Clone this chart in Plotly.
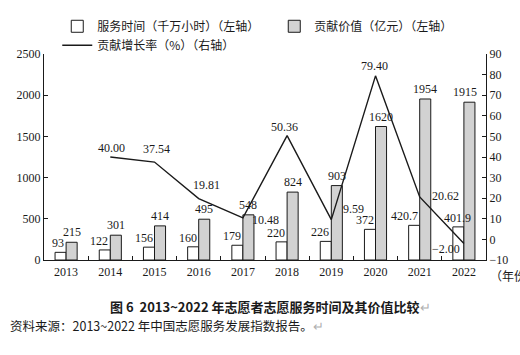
import plotly.graph_objects as go

# ---------------- data ----------------
years = ["2013", "2014", "2015", "2016", "2017", "2018", "2019", "2020", "2021", "2022"]
service_hours = [93, 122, 156, 160, 179, 220, 226, 372, 420.7, 401.9]          # 千万小时
service_labels = ["93", "122", "156", "160", "179", "220", "226", "372", "420.7", "401.9"]
contribution_value = [215, 301, 414, 495, 548, 824, 903, 1620, 1954, 1915]     # 亿元
growth_years = ["2014", "2015", "2016", "2017", "2018", "2019", "2020", "2021", "2022"]
growth_rate = [40.00, 37.54, 19.81, 10.48, 50.36, 9.59, 79.40, 20.62, -2.00]   # %
growth_labels = ["40.00", "37.54", "19.81", "10.48", "50.36", "9.59", "79.40", "20.62", "−2.00"]

left_ticks = [0, 500, 1000, 1500, 2000, 2500]
right_ticks = [-10, 0, 10, 20, 30, 40, 50, 60, 70, 80, 90]

# ---------------- style ----------------
FONT = "Liberation Serif, Times New Roman, Noto Sans CJK SC, serif"
CJK = "Noto Sans CJK SC, Liberation Serif, serif"
INK = "#1a1a1a"
GRAY = "#d2d2d2"

# label offsets (px) relative to the line points: (dx, dy)
growth_offsets = {
    "2014": (1, 9), "2015": (2, 13), "2016": (8, 14), "2017": (23, -2),
    "2018": (-3, 9), "2019": (22, 11), "2020": (-1, 10), "2021": (26, 1),
    "2022": (-18, -5),
}
white_label_shift = {"2022": 9}
gray_label_shift = {"2022": -4}

cat_index = {yr: i for i, yr in enumerate(years)}

fig = go.Figure()

fig.add_trace(go.Bar(
    x=years, y=service_hours, name="服务时间（千万小时）（左轴）",
    marker=dict(color="white", line=dict(color=INK, width=1)),
    yaxis="y", offsetgroup="a",
))
fig.add_trace(go.Bar(
    x=years, y=contribution_value, name="贡献价值（亿元）（左轴）",
    marker=dict(color=GRAY, line=dict(color=INK, width=1)),
    yaxis="y", offsetgroup="b",
))
fig.add_trace(go.Scatter(
    x=growth_years, y=growth_rate, name="贡献增长率（%）（右轴）",
    mode="lines", line=dict(color=INK, width=1.4),
    yaxis="y2",
))

annotations = []
for yr, v, lab in zip(years, service_hours, service_labels):
    annotations.append(dict(
        x=cat_index[yr], y=v, xref="x", yref="y", text=lab, showarrow=False,
        xanchor="right", yanchor="bottom", xshift=white_label_shift.get(yr, 0), yshift=0,
        font=dict(family=FONT, size=12, color=INK),
    ))
for yr, v in zip(years, contribution_value):
    annotations.append(dict(
        x=cat_index[yr], y=v, xref="x", yref="y", text=str(v), showarrow=False,
        xanchor="center", yanchor="bottom", xshift=5.5 + gray_label_shift.get(yr, 0), yshift=1,
        font=dict(family=FONT, size=12, color=INK),
    ))
for yr, v, lab in zip(growth_years, growth_rate, growth_labels):
    dx, dy = growth_offsets[yr]
    annotations.append(dict(
        x=cat_index[yr], y=v, xref="x", yref="y2", text=lab, showarrow=False,
        xanchor="center", yanchor="middle", xshift=dx, yshift=dy,
        font=dict(family=FONT, size=12, color=INK),
    ))

annotations.append(dict(
    x=1.0, y=-0.062, xref="paper", yref="paper", text="（年份）", showarrow=False,
    xanchor="left", yanchor="middle", xshift=2, yshift=-3,
    font=dict(family=CJK, size=12, color=INK),
))
annotations.append(dict(
    x=0.512, y=-0.225, xref="paper", yref="paper",
    text="<b>图 6  2013~2022 年志愿者志愿服务时间及其价值比较</b><span style='color:#b0b0b0'>↵</span>",
    showarrow=False, xanchor="center", yanchor="middle",
    font=dict(family=CJK, size=13, color=INK),
))
annotations.append(dict(
    x=-0.0814, y=-0.32, xref="paper", yref="paper",
    text="资料来源：2013~2022 年中国志愿服务发展指数报告。<span style='color:#b0b0b0'>↵</span>",
    showarrow=False, xanchor="left", yanchor="middle",
    font=dict(family=CJK, size=12.5, color=INK),
))

fig.update_layout(
    width=520, height=355,
    margin=dict(l=44, r=34, t=51, b=95),
    paper_bgcolor="white", plot_bgcolor="white",
    barmode="group", bargap=0.5, bargroupgap=0,
    font=dict(family=FONT, size=12, color=INK),
    showlegend=True,
    legend=dict(
        orientation="h", x=0.03, y=1.205, xanchor="left", yanchor="top",
        entrywidth=172, entrywidthmode="pixels",
        font=dict(family=CJK, size=12, color=INK),
        bgcolor="rgba(0,0,0,0)", itemwidth=30, tracegroupgap=0,
    ),
    xaxis=dict(
        type="category", categoryorder="array", categoryarray=years,
        range=[-0.5, len(years) - 0.5],
        showline=True, linecolor=INK, linewidth=1.2, mirror=False,
        ticks="inside", tickson="boundaries", ticklen=4, tickcolor=INK,
        showgrid=False, zeroline=False, tickangle=0,
        tickfont=dict(family=FONT, size=12, color=INK),
    ),
    yaxis=dict(
        range=[0, 2500], tickvals=left_ticks,
        showline=True, linecolor=INK, linewidth=1.2,
        ticks="inside", ticklen=4, tickcolor=INK,
        showgrid=False, zeroline=False,
        tickfont=dict(family=FONT, size=12, color=INK),
    ),
    yaxis2=dict(
        range=[-10, 90], tickvals=right_ticks, overlaying="y", side="right",
        showline=True, linecolor=INK, linewidth=1.2,
        ticks="inside", ticklen=4, tickcolor=INK,
        showgrid=False, zeroline=False,
        tickfont=dict(family=FONT, size=12, color=INK),
    ),
    annotations=annotations,
)

fig.write_html(
    "out.html",
    config={"displayModeBar": False},
    post_script="document.body.style.margin='0';document.body.style.overflow='hidden';",
)
